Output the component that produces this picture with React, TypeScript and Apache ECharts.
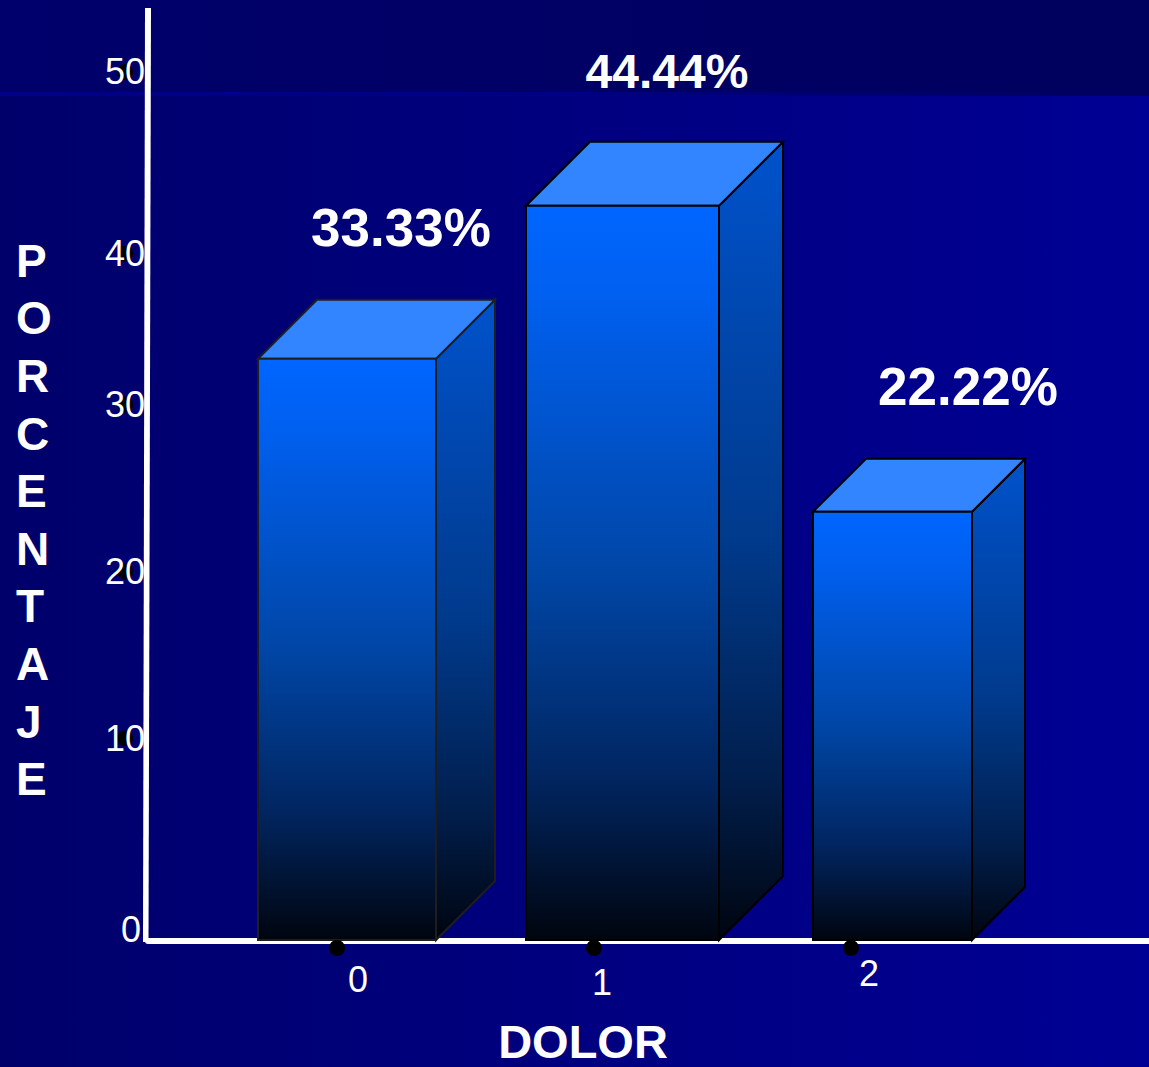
import React, { useEffect, useRef } from "react";
import * as echarts from "echarts";

// Pain-score distribution (DOLOR) as extruded 3D columns.
const categories = ["0", "1", "2"];
const percentages = [33.33, 44.44, 22.22];
const yTicks = [0, 10, 20, 30, 40, 50];
const markedTicks = [10, 20, 30, 40, 50];
const yTitle = "PORCENTAJE";
const xTitle = "DOLOR";

const WIDTH = 1149;
const HEIGHT = 1067;
const COLUMN_AXIS_MIN = -8.88;

// Column geometry per category, in pixels
const columnLeftOffset = [-79, -68, -38];
const columnWidth = [178, 193, 159];
const columnDepth = [59, 64, 53];
const columnEdge = ["#1e1e1e", "#000000", "#000000"];
// Value label centre relative to the column's top-left front corner
const labelOffset = [[143, -131], [141, -134], [155, -125]];
const labelFontSize = [53, 48, 53];
// Nudges of the axis labels away from their nominal place
const xLabelShift = [{ x: 21, y: 0 }, { x: 8, y: 3 }, { x: 18, y: -6 }];
const yLabelRaise: Record<number, number> = { 0: 12, 10: 29, 20: 22, 30: 15, 40: -8, 50: 0 };

const FONT = "Liberation Sans";

const frontFill = new echarts.graphic.LinearGradient(0, 0, 0, 1, [
  { offset: 0, color: "#0066ff" },
  { offset: 0.12, color: "#0060f0" },
  { offset: 0.5, color: "#0046a6" },
  { offset: 0.78, color: "#012560" },
  { offset: 1, color: "#00050f" },
]);
const sideFill = new echarts.graphic.LinearGradient(0, 0, 0, 1, [
  { offset: 0, color: "#0052cc" },
  { offset: 0.5, color: "#003a8c" },
  { offset: 0.8, color: "#011e4c" },
  { offset: 1, color: "#00050f" },
]);

function renderColumn(params: any, api: any) {
  const i = api.value(0);
  const v = api.value(1);
  const centre = api.coord([i, v]);
  const base = api.coord([i, COLUMN_AXIS_MIN]);
  const bandX = centre[0];
  const x0 = bandX + columnLeftOffset[i];
  const x1 = x0 + columnWidth[i];
  const d = columnDepth[i];
  const top = centre[1];
  const bottom = base[1];
  const edge = { stroke: columnEdge[i], lineWidth: 2, lineJoin: "miter" };
  return {
    type: "group",
    children: [
      {
        type: "polygon",
        shape: { points: [[x1, top], [x1 + d, top - d], [x1 + d, bottom - d], [x1, bottom]] },
        style: { fill: sideFill, ...edge },
      },
      {
        type: "polygon",
        shape: { points: [[x0, top], [x0 + d, top - d], [x1 + d, top - d], [x1, top]] },
        style: { fill: "#3385ff", ...edge },
      },
      {
        type: "rect",
        shape: { x: x0, y: top, width: x1 - x0, height: bottom - top },
        style: { fill: frontFill, ...edge },
      },
      {
        type: "circle",
        shape: { cx: bandX, cy: bottom + 8, r: 8 },
        style: { fill: "#000000" },
      },
      {
        type: "text",
        style: {
          text: `${v.toFixed(2)}%`,
          x: x0 + labelOffset[i][0],
          y: top + labelOffset[i][1],
          align: "center",
          verticalAlign: "middle",
          fill: "#ffffff",
          font: `bold ${labelFontSize[i]}px "${FONT}"`,
        },
      },
    ],
  };
}

// Round tick markers that sit behind the value-axis numbers
function renderTickDot(params: any, api: any) {
  const t = api.value(1);
  const p = api.coord([0, t]);
  return {
    type: "circle",
    shape: { cx: p[0] - 23, cy: p[1] - yLabelRaise[t], r: 8 },
    style: { fill: "#000000" },
  };
}

export default function App() {
  const ref = useRef<HTMLDivElement>(null);

  useEffect(() => {
    document.body.style.margin = "0";
    const chart = echarts.init(ref.current!, undefined, { renderer: "svg" });
    const yRich: Record<string, any> = {};
    yTicks.forEach((t) => {
      const raise = yLabelRaise[t];
      yRich[`t${t}`] = {
        color: "#ffffff",
        fontSize: 36,
        fontFamily: FONT,
        padding: [raise < 0 ? -raise * 2 : 0, t === 0 ? 4 : 0, raise > 0 ? raise * 2 : 0, 0],
      };
    });
    const xRich: Record<string, any> = {};
    categories.forEach((c, i) => {
      const s = xLabelShift[i];
      xRich[`c${c}`] = {
        color: "#ffffff",
        fontSize: 36,
        fontFamily: FONT,
        padding: [Math.max(s.y + 6, 0), 0, 0, s.x * 2],
      };
    });

    chart.setOption({
      animation: false,
      backgroundColor: {
        type: "linear",
        x: 0,
        y: 0,
        x2: 1,
        y2: 0,
        colorStops: [
          { offset: 0, color: "#00006b" },
          { offset: 1, color: "#000094" },
        ],
      },
      graphic: [
        {
          type: "rect",
          z: -1,
          shape: { x: 0, y: 0, width: WIDTH, height: 92 },
          style: {
            fill: new echarts.graphic.LinearGradient(0, 0, 1, 0, [
              { offset: 0, color: "#00006c" },
              { offset: 1, color: "#00005e" },
            ]),
          },
          silent: true,
        },
        {
          // Thin rule under the title band, fading out to the right
          type: "rect",
          z: -1,
          shape: { x: 0, y: 92, width: WIDTH, height: 4 },
          style: {
            fill: new echarts.graphic.LinearGradient(0, 0, 1, 0, [
              { offset: 0, color: "#00008a" },
              { offset: 0.5, color: "#000085" },
              { offset: 0.85, color: "#000068" },
              { offset: 1, color: "#00005e" },
            ]),
          },
          silent: true,
        },
        {
          // Value axis, hand-ruled with a slight lean
          type: "polygon",
          z: 6,
          shape: { points: [[145, 8], [151, 8], [148.5, 942], [143, 942]] },
          style: { fill: "#ffffff" },
          silent: true,
        },
        {
          type: "text",
          z: 6,
          style: {
            text: yTitle.split("").join("\n"),
            x: 16,
            y: 232,
            fill: "#ffffff",
            font: `bold 46px "${FONT}"`,
            lineHeight: 57.6,
            align: "left",
            verticalAlign: "top",
          },
          silent: true,
        },
      ],
      grid: [
        // Columns: bands 257px wide so the markers fall at 337, 594 and 851
        { left: 208.5, width: 771, top: 129.2, height: 810.8, outerBoundsMode: "none" },
        // Axis frame spanning the full slide
        { left: 148, right: 0, top: 8, height: 933, outerBoundsMode: "none" },
      ],
      xAxis: [
        {
          type: "category",
          gridIndex: 0,
          data: categories,
          axisLine: { show: false },
          axisTick: { show: false },
          axisLabel: {
            margin: 15,
            formatter: (v: string) => `{c${v}|${v}}`,
            rich: xRich,
          },
          name: xTitle,
          nameLocation: "middle",
          nameGap: 78,
          nameTextStyle: {
            color: "#ffffff",
            fontSize: 47,
            fontWeight: "bold",
            fontFamily: FONT,
            padding: [0, 22, 0, 0],
          },
        },
        {
          type: "value",
          gridIndex: 1,
          min: 0,
          max: 1,
          z: 1,
          axisLine: { show: true, lineStyle: { color: "#ffffff", width: 6 } },
          axisTick: { show: false },
          axisLabel: { show: false },
          splitLine: { show: false },
        },
      ],
      yAxis: [
        {
          // Scale of the drawn columns
          type: "value",
          gridIndex: 0,
          min: COLUMN_AXIS_MIN,
          max: 50,
          show: false,
        },
        {
          type: "value",
          gridIndex: 1,
          min: 0,
          max: 53.68,
          interval: 10,
          z: 5,
          axisLine: { show: false },
          axisTick: { show: false },
          splitLine: { show: false },
          axisLabel: {
            margin: 3,
            showMaxLabel: false,
            formatter: (v: number) => `{t${v}|${v}}`,
            rich: yRich,
          },
        },
      ],
      series: [
        {
          type: "custom",
          coordinateSystem: "cartesian2d",
          xAxisIndex: 1,
          yAxisIndex: 1,
          renderItem: renderTickDot,
          data: markedTicks.map((t) => [0, t]),
          clip: false,
          silent: true,
        },
        {
          type: "custom",
          coordinateSystem: "cartesian2d",
          xAxisIndex: 0,
          yAxisIndex: 0,
          renderItem: renderColumn,
          data: percentages.map((p, i) => [i, p]),
          clip: false,
          silent: true,
        },
      ],
    });
    return () => chart.dispose();
  }, []);

  return <div ref={ref} style={{ width: WIDTH, height: HEIGHT }} />;
}
